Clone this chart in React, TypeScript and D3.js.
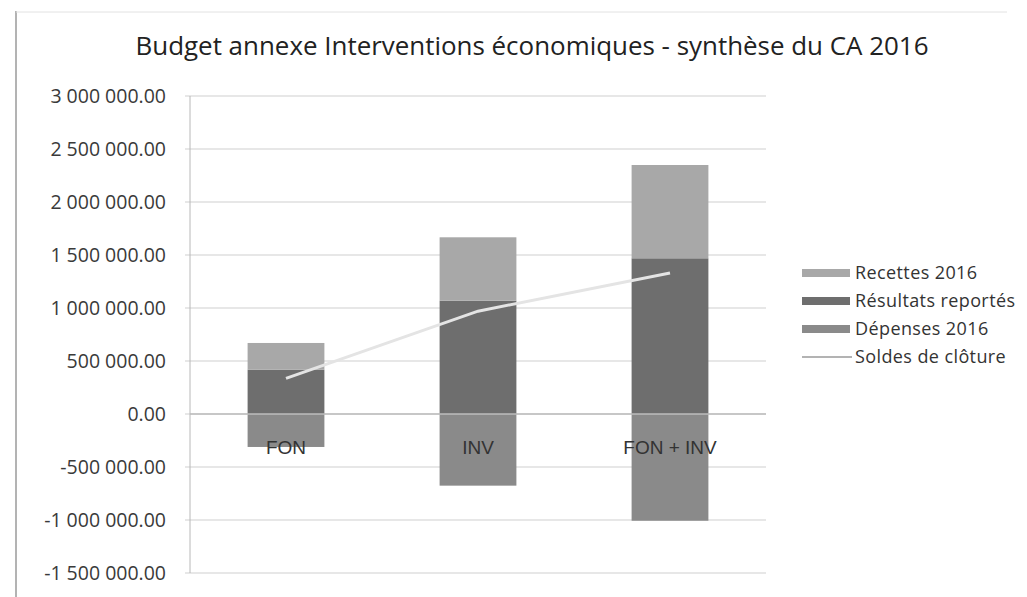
import React from "react";
import * as d3 from "d3";

const categories = ["FON", "INV", "FON + INV"];
const recettes2016 = [252000, 598000, 880000];
const resultatsReportes = [418000, 1069000, 1469000];
const depenses2016 = [-311000, -676000, -1007000];
const soldesCloture = [336000, 970000, 1330000];
const yTicks = [-1500000, -1000000, -500000, 0, 500000, 1000000, 1500000, 2000000, 2500000, 3000000];

const title = "Budget annexe Interventions économiques - synthèse du CA 2016";
const legendItems = [
  { label: "Recettes 2016", kind: "rect", color: "#a8a8a8" },
  { label: "Résultats reportés", kind: "rect", color: "#6e6e6e" },
  { label: "Dépenses 2016", kind: "rect", color: "#8a8a8a" },
  { label: "Soldes de clôture", kind: "line", color: "#9a9a9a" },
];

const W = 1027;
const H = 597;
const plot = { left: 190, right: 766, top: 96, bottom: 573 };

const locale = d3.formatLocale({
  decimal: ".",
  thousands: " ",
  grouping: [3],
  currency: ["", ""],
  minus: "-",
});
const fmt = locale.format(",.2f");

export default function App() {
  const x = d3
    .scaleBand<string>()
    .domain(categories)
    .range([plot.left, plot.right])
    .paddingInner(0.6)
    .paddingOuter(0.3);
  const y = d3.scaleLinear().domain([-1500000, 3000000]).range([plot.bottom, plot.top]);
  const bw = x.bandwidth();

  const line = d3
    .line<number>()
    .x((_, i) => (x(categories[i]) as number) + bw / 2)
    .y((d) => y(d));

  const font = "'Open Sans', 'DejaVu Sans', sans-serif";

  return (
    <svg
      width={W}
      height={H}
      style={{ position: "absolute", left: 0, top: 0, background: "#fff" }}
      fontFamily={font}
    >
      <rect x={0} y={0} width={W} height={H} fill="#ffffff" />
      {/* outer frame remnants */}
      <line x1={16} x2={16} y1={11} y2={H} stroke="#9a9a9a" strokeWidth={1.5} />
      <line x1={16} x2={W - 20} y1={12} y2={12} stroke="#e2e2e2" strokeWidth={1} />

      {/* title */}
      <text
        x={532}
        y={55}
        textAnchor="middle"
        fontSize={25}
        fontWeight={500}
        fill="#222"
        textLength={793}
        lengthAdjust="spacingAndGlyphs"
      >
        {title}
      </text>

      {/* gridlines and y labels */}
      {yTicks.map((t) => (
        <g key={t}>
          <line x1={plot.left - 5} x2={plot.right} y1={y(t)} y2={y(t)} stroke="#cfcfcf" strokeWidth={1} />
          <text
            x={166}
            y={y(t)}
            dy="0.35em"
            textAnchor="end"
            fontSize={19.5}
            fill="#3a3a3a"
          >
            {fmt(t)}
          </text>
        </g>
      ))}
      <line x1={plot.left} x2={plot.left} y1={plot.top} y2={plot.bottom} stroke="#b8b8b8" strokeWidth={1} />

      {/* bars */}
      {categories.map((c, i) => {
        const x0 = x(c) as number;
        return (
          <g key={c}>
            <rect x={x0} y={y(0)} width={bw} height={y(depenses2016[i]) - y(0)} fill="#8a8a8a" />
            <rect x={x0} y={y(resultatsReportes[i])} width={bw} height={y(0) - y(resultatsReportes[i])} fill="#6e6e6e" />
            <rect
              x={x0}
              y={y(resultatsReportes[i] + recettes2016[i])}
              width={bw}
              height={y(resultatsReportes[i]) - y(resultatsReportes[i] + recettes2016[i])}
              fill="#a8a8a8"
            />
          </g>
        );
      })}

      {/* zero axis line */}
      <line x1={plot.left} x2={plot.right} y1={y(0)} y2={y(0)} stroke="#bdbdbd" strokeWidth={1.5} />

      {/* category labels */}
      {categories.map((c) => (
        <text
          key={c}
          x={(x(c) as number) + bw / 2}
          y={y(0) + 40}
          textAnchor="middle"
          fontSize={19}
          fontFamily="'Liberation Sans', Arial, sans-serif"
          fill="#333"
        >
          {c}
        </text>
      ))}

      {/* soldes line */}
      <path d={line(soldesCloture) || ""} fill="none" stroke="#e4e4e4" strokeWidth={3} />

      {/* legend */}
      {legendItems.map((it, i) => {
        const cy = 273 + i * 28;
        return (
          <g key={it.label}>
            {it.kind === "rect" ? (
              <rect x={802} y={cy - 4} width={48} height={8} fill={it.color} />
            ) : (
              <line x1={802} x2={852} y1={cy} y2={cy} stroke={it.color} strokeWidth={1.5} />
            )}
            <text x={855} y={cy} dy="0.35em" fontSize={18} fill="#333" letterSpacing={0.4}>
              {it.label}
            </text>
          </g>
        );
      })}
    </svg>
  );
}
